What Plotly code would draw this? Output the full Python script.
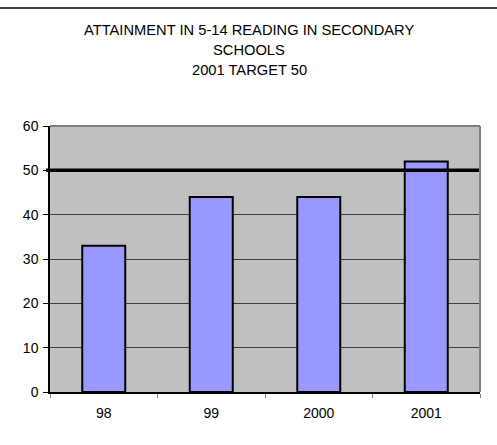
import plotly.graph_objects as go

# Reading attainment by year, with the 2001 target
years = ["98", "99", "2000", "2001"]
attainment = [33, 44, 44, 52]
target = 50
title_lines = ["ATTAINMENT IN 5-14 READING IN SECONDARY", "SCHOOLS", "2001 TARGET 50"]
y_ticks = [0, 10, 20, 30, 40, 50, 60]

W, H = 497, 445
ML, MR, MT, MB = 50, 17, 126, 53
plot_w = W - ML - MR
plot_h = H - MT - MB


def px_to_paper_y(py):
    return (H - MB - py) / plot_h


def px_to_paper_x(px):
    return (px - ML) / plot_w


FONT = "Liberation Sans, Arial, sans-serif"

fig = go.Figure()
fig.add_trace(go.Bar(
    x=years,
    y=attainment,
    width=0.4,
    marker=dict(color="#9999FF", line=dict(color="black", width=2)),
    hoverinfo="skip",
))

shapes = [
    # target line across the plot area
    dict(type="line", xref="paper", yref="y", x0=px_to_paper_x(46), x1=1,
         y0=target, y1=target, line=dict(color="black", width=3.5), layer="above"),
    # grey frame on top and right of plot area
    dict(type="line", xref="paper", yref="paper", x0=0, x1=1, y0=1, y1=1,
         line=dict(color="#808080", width=2)),
    dict(type="line", xref="paper", yref="paper", x0=1, x1=1, y0=0, y1=1,
         line=dict(color="#808080", width=2)),
    # rule across the top of the page
    dict(type="line", xref="paper", yref="paper", x0=px_to_paper_x(0), x1=px_to_paper_x(W),
         y0=px_to_paper_y(8), y1=px_to_paper_y(8), line=dict(color="black", width=1.5)),
]

annotations = []
for i, line in enumerate(title_lines):
    annotations.append(dict(
        text=line, xref="paper", yref="paper",
        x=px_to_paper_x(249), y=px_to_paper_y(30 + 20 * i),
        xanchor="center", yanchor="middle", showarrow=False,
        font=dict(family=FONT, size=14.7, color="black"),
    ))

fig.update_layout(
    width=W, height=H,
    margin=dict(l=ML, r=MR, t=MT, b=MB, pad=0),
    paper_bgcolor="white",
    plot_bgcolor="#C0C0C0",
    showlegend=False,
    hovermode=False,
    shapes=shapes,
    annotations=annotations,
    xaxis=dict(
        type="category",
        showline=True, linecolor="black", linewidth=1.5,
        ticks="outside", tickson="boundaries", ticklen=4, tickcolor="#808080",
        showgrid=False,
        ticklabelstandoff=7,
        tickfont=dict(family=FONT, size=14, color="black"),
        fixedrange=True,
    ),
    yaxis=dict(
        range=[0, 60],
        tickvals=y_ticks,
        showline=True, linecolor="black", linewidth=1.5,
        ticks="outside", ticklen=5, tickcolor="black",
        showgrid=True, gridcolor="#404040", gridwidth=1,
        zeroline=False,
        ticklabelstandoff=2,
        tickfont=dict(family=FONT, size=14, color="black"),
        fixedrange=True,
    ),
)

fig.write_html("out.html")
